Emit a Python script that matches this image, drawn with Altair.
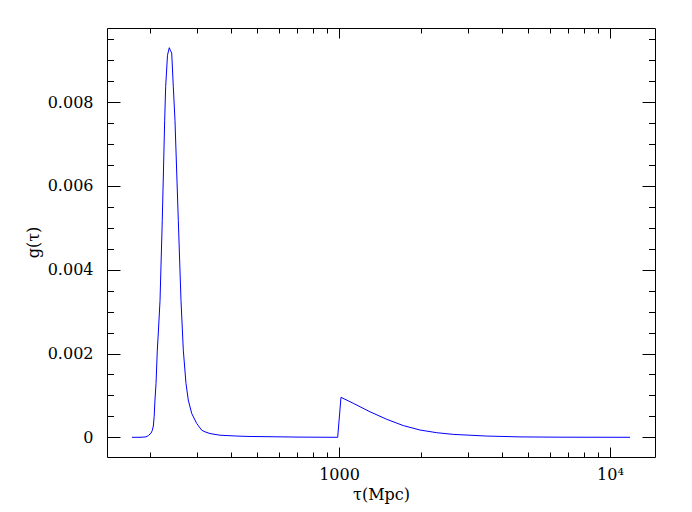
import altair as alt
import pandas as pd

# visibility function g(tau)
tau = [172.3, 184.4, 194.0, 197.9, 202.5, 204.6, 206.5, 208.0, 209.4, 211.3, 213.6, 215.4, 218.6, 222.8,
       227.4, 229.3, 232.9, 236.5, 238.5, 241.4, 244.7, 248.2, 255.3, 261.2,
       266.4, 272.5, 277.9, 286.1, 298.5, 311.5, 320.5, 334.2, 363.9, 420.0, 469.5, 718.0,
       989.0, 1017.1, 1129.0, 1301.0, 1500.0, 1727.0, 1990.0, 2294.0, 2641.0,
       3508.0, 4655.0, 6541.0, 11855.0]
g = [0.0, 0.0, 0.00001, 0.00004, 0.0001, 0.00016, 0.00027, 0.0005, 0.00089, 0.00129, 0.00208, 0.00249, 0.00327, 0.00518,
     0.00757, 0.00837, 0.00912, 0.00930, 0.00924, 0.00917, 0.00837, 0.00757, 0.00518, 0.00327,
     0.00208, 0.00129, 0.00089, 0.00057, 0.00033, 0.00017, 0.00013, 0.00009, 0.00005, 0.00003, 0.00002, 0.000005,
     0.0, 0.000955, 0.000812, 0.00061, 0.00043, 0.00028, 0.000174, 0.00011, 0.00007,
     0.00003, 0.00001, 0.000003, 0.0]

x_major = [1000, 10000]
x_minor = [200, 300, 400, 500, 600, 700, 800, 900,
           2000, 3000, 4000, 5000, 6000, 7000, 8000, 9000]
y_major = [0.0, 0.002, 0.004, 0.006, 0.008]
y_minor = [0.0005, 0.001, 0.0015, 0.0025, 0.003, 0.0035, 0.0045, 0.005, 0.0055,
           0.0065, 0.007, 0.0075, 0.0085, 0.009, 0.0095]

df = pd.DataFrame({"tau": tau, "g": g})

FONT = "DejaVu Serif"
xscale = alt.Scale(type="log", domain=[139.3, 14660], nice=False)
yscale = alt.Scale(domain=[-0.00047, 0.00977], nice=False, zero=False)

common = dict(grid=False, tickColor="black", tickWidth=1, domainColor="black")


def tick_axis(orient, values, size):
    return alt.Axis(orient=orient, values=values, labels=False, domain=False,
                    tickSize=size, offset=-size, title=None, **common)


xA = alt.Axis(orient="bottom", values=x_major,
              labelExpr="datum.value == 1000 ? '1000' : '10⁴'",
              ticks=False, domain=False, labelPadding=9, labelFont=FONT,
              labelFontSize=16, labelColor="black",
              title="τ(Mpc)", titleFont=FONT, titleFontSize=16, titleFontWeight="normal",
              titleColor="black", titleX=274, titleY=37, titleBaseline="middle", **common)
yA = alt.Axis(orient="left", values=y_major,
              labelExpr="datum.value == 0 ? '0' : format(datum.value, '.3f')",
              ticks=False, domain=False, labelPadding=14, labelFont=FONT,
              labelFontSize=16, labelColor="black",
              title="g(τ)", titleFont=FONT, titleFontSize=16, titleFontWeight="normal",
              titleColor="black", titleX=-74, titleY=214, titleBaseline="middle", **common)

pairs = [
    (xA, yA),
    (tick_axis("bottom", x_major, 10), tick_axis("left", y_major, 13)),
    (tick_axis("bottom", x_minor, 5), tick_axis("left", y_minor, 6.5)),
    (tick_axis("top", x_major, 10), tick_axis("right", y_major, 13)),
    (tick_axis("top", x_minor, 5), tick_axis("right", y_minor, 6.5)),
]

base = alt.Chart(df)
layers = []
for i, (xa, ya) in enumerate(pairs):
    layers.append(
        base.mark_line(color="#0000ff", strokeWidth=1, opacity=1 if i == 0 else 0).encode(
            x=alt.X("tau:Q", scale=xscale, axis=xa),
            y=alt.Y("g:Q", scale=yscale, axis=ya),
        )
    )

chart = (
    alt.layer(*layers)
    .resolve_scale(x="shared", y="shared")
    .resolve_axis(x="independent", y="independent")
    .properties(width=548, height=429, background="white",
                autosize=alt.AutoSizeParams(type="none"),
                padding={"left": 99, "top": 20, "right": 25, "bottom": 47})
    .configure_view(stroke="black", strokeWidth=1)
)

chart.save("out.html", embed_options={"renderer": "svg", "actions": False})
